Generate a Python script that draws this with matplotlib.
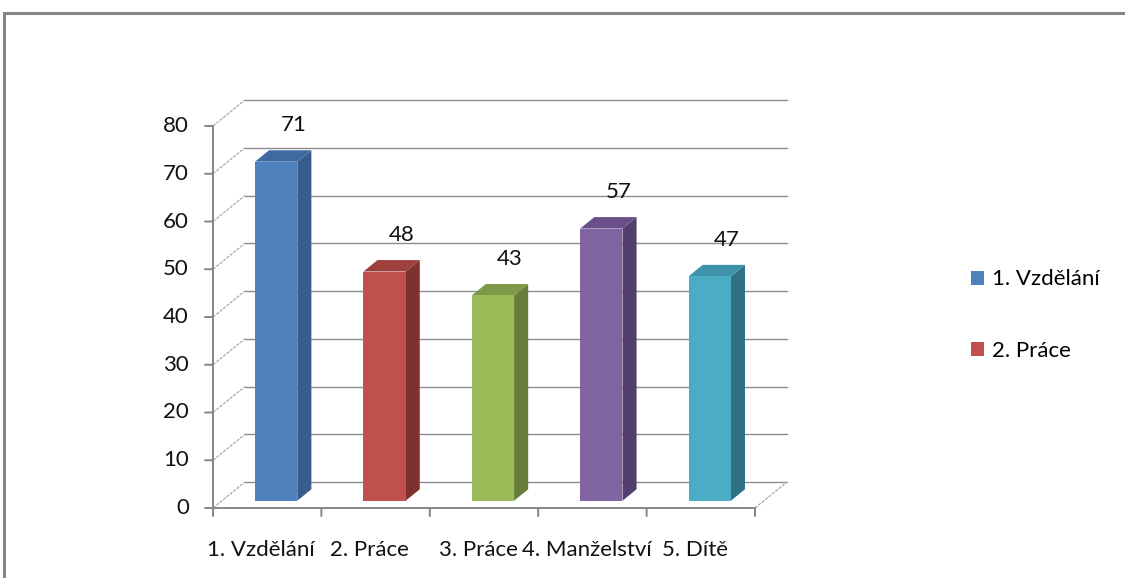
import matplotlib
matplotlib.use("Agg")
import matplotlib.pyplot as plt
from matplotlib.patches import Polygon, Rectangle, Patch

categories = ["1. Vzdělání", "2. Práce", "3. Práce", "4. Manželství", "5. Dítě"]
values = [71, 48, 43, 57, 47]
front_colors = ["#4F81BD", "#C0504D", "#9BBB59", "#8064A2", "#4BACC6"]
side_colors = ["#385D8A", "#7F312F", "#677D3A", "#533F6E", "#2F7286"]
top_colors = ["#3E6AA0", "#9E403D", "#7E9A48", "#694F88", "#3C93AA"]
legend_labels = ["1. Vzdělání", "2. Práce"]
yticks = [0, 10, 20, 30, 40, 50, 60, 70, 80]

plt.rcParams['font.family'] = ['Lato', 'DejaVu Sans']
FS = 16

fig = plt.figure(figsize=(11.25, 5.78), dpi=100)
W, H = 1125, 578
left, right, bottom, top = 213, 755, 508, 126
ax = fig.add_axes([left / W, 1 - bottom / H, (right - left) / W, (bottom - top) / H])
ax.set_xlim(-0.5, 4.5)
ax.set_ylim(0, 80)
ax.axis('off')

# depth offset in data units (32 px right, 26 px up for full depth)
px_x = (right - left) / 5.0
px_y = (bottom - top) / 80.0
SX = 32 / px_x
SY = 26 / px_y

def P(x, y, d):
    return (x + d * SX, y + d * SY)

grid_c = "#8C8C8C"
diag_c = "#A8A8A8"
# back wall gridlines and left side wall diagonals
for t in yticks:
    a = P(-0.5, t, 1); b = P(4.5, t, 1)
    ax.plot([a[0], b[0]], [a[1], b[1]], color=grid_c, lw=1.0, clip_on=False, zorder=1)
    c = P(-0.5, t, 0)
    ax.plot([c[0], a[0]], [c[1], a[1]], color=diag_c, lw=0.9, ls=(0, (2.5, 1)), clip_on=False, zorder=1)
# right floor diagonal
a = P(4.5, 0, 0); b = P(4.5, 0, 1)
ax.plot([a[0], b[0]], [a[1], b[1]], color=diag_c, lw=0.9, ls=(0, (2.5, 1)), clip_on=False, zorder=1)

# front axes
ax.plot([-0.5, -0.5], [0, 80], color="#868686", lw=1.4, clip_on=False, zorder=2)
ax.plot([-0.5, 4.5], [0, 0], color="#868686", lw=1.4, clip_on=False, zorder=2)
for t in yticks:
    ax.annotate("", xy=(-0.5, t), xytext=(-8, 0), textcoords='offset pixels',
                arrowprops=dict(arrowstyle='-', color="#868686", lw=1.4, shrinkA=0, shrinkB=0))
    ax.annotate(str(t), xy=(-0.5, t), xytext=(-24, 0), textcoords='offset pixels',
                ha='right', va='center', fontsize=FS, color="#111111")
for i in range(6):
    ax.annotate("", xy=(i - 0.5, 0), xytext=(0, -8), textcoords='offset pixels',
                arrowprops=dict(arrowstyle='-', color="#868686", lw=1.4, shrinkA=0, shrinkB=0))
for i, lab in enumerate(categories):
    ax.annotate(lab, xy=(i, 0), xytext=(-6, -42), textcoords='offset pixels',
                ha='center', va='center', fontsize=FS, color="#111111")

# 3D bars
d0, d1 = 0.28, 0.72
bw = 0.39
for i, v in enumerate(values):
    x0, x1 = i - bw / 2, i + bw / 2
    front = [P(x0, 0, d0), P(x1, 0, d0), P(x1, v, d0), P(x0, v, d0)]
    side = [P(x1, 0, d0), P(x1, 0, d1), P(x1, v, d1), P(x1, v, d0)]
    topf = [P(x0, v, d0), P(x1, v, d0), P(x1, v, d1), P(x0, v, d1)]
    ax.add_patch(Polygon(side, closed=True, fc=side_colors[i], ec='none', zorder=3, clip_on=False))
    ax.add_patch(Polygon(topf, closed=True, fc=top_colors[i], ec='none', zorder=3, clip_on=False))
    ax.add_patch(Polygon(front, closed=True, fc=front_colors[i], ec='none', zorder=4, clip_on=False))
    lx, ly = P(i, v, d1)
    ax.annotate(str(v), xy=(lx, ly), xytext=(3, 15), textcoords='offset pixels',
                ha='center', va='bottom', fontsize=FS, color="#111111")

# legend (only two entries as in the original)
handles = [Patch(fc=front_colors[k], ec='none') for k in range(len(legend_labels))]
fig.legend(handles, legend_labels, loc='center left', bbox_to_anchor=(951 / W, 1 - 315 / H),
           frameon=False, fontsize=FS, labelspacing=2.3, handlelength=0.6, handleheight=0.6,
           handletextpad=0.35)

# outer border
fig.add_artist(Rectangle((4 / W, -0.2), 1.5, 1.2 - 13 / H, transform=fig.transFigure,
                         fill=False, ec="#868686", lw=2.2))

fig.savefig("out.png", dpi=100)
